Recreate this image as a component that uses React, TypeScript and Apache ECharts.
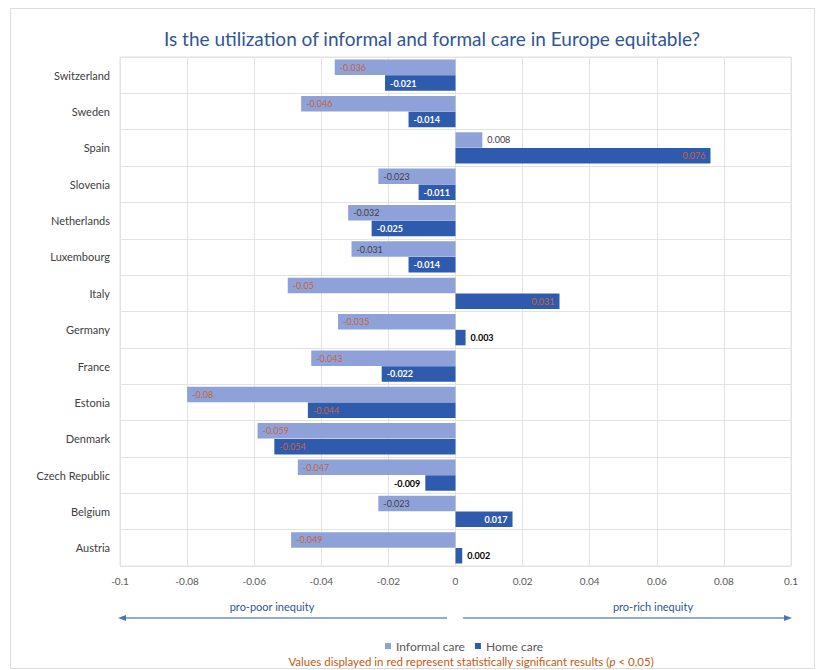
import React, { useEffect, useRef } from "react";
import * as echarts from "echarts";

const countries = [
  "Switzerland", "Sweden", "Spain", "Slovenia", "Netherlands", "Luxembourg", "Italy",
  "Germany", "France", "Estonia", "Denmark", "Czech Republic", "Belgium", "Austria",
];
const informalCare = [-0.036, -0.046, 0.008, -0.023, -0.032, -0.031, -0.05, -0.035, -0.043, -0.08, -0.059, -0.047, -0.023, -0.049];
const homeCare = [-0.021, -0.014, 0.076, -0.011, -0.025, -0.014, 0.031, 0.003, -0.022, -0.044, -0.054, -0.009, 0.017, 0.002];
const informalSig = [true, true, false, false, false, false, true, true, true, true, true, true, false, true];
const homeSig = [false, false, true, false, false, false, true, false, false, true, true, false, false, false];
const informalLabels = ["-0.036", "-0.046", "0.008", "-0.023", "-0.032", "-0.031", "-0.05", "-0.035", "-0.043", "-0.08", "-0.059", "-0.047", "-0.023", "-0.049"];
const homeLabels = ["-0.021", "-0.014", "0.076", "-0.011", "-0.025", "-0.014", "0.031", "0.003", "-0.022", "-0.044", "-0.054", "-0.009", "0.017", "0.002"];
const xTicks = [-0.1, 0.1, 0.02];

const RED = "#c8623a";
const INFORMAL = "#8EA2D9";
const HOME = "#2F5BAE";

function buildData(values: number[], sig: boolean[], labels: string[], insideColor: string, isHome: boolean) {
  return values.map((v, i) => {
    const small = Math.abs(v) < 0.01;
    const position = small ? (v >= 0 ? "right" : "left") : v >= 0 ? "insideRight" : "insideLeft";
    const color = sig[i] ? RED : small ? (isHome ? "#000000" : "#404040") : insideColor;
    return {
      value: v,
      label: { show: true, position, color, formatter: labels[i], fontWeight: isHome && !sig[i] ? "bold" : "normal" },
    };
  });
}

export default function App() {
  const ref = useRef<HTMLDivElement>(null);
  useEffect(() => {
    if (!ref.current) return;
    const chart = echarts.init(ref.current, null, { renderer: "svg" });
    const font = "Lato, 'Open Sans', sans-serif";
    chart.setOption({
      animation: false,
      textStyle: { fontFamily: font },
      title: {
        text: "Is the utilization of informal and formal care in Europe equitable?",
        left: 427,
        top: 24,
        textAlign: "center",
        textStyle: { color: "#2F5597", fontSize: 19, fontWeight: "normal", fontFamily: font },
      },
      grid: { left: 120, right: 33, top: 57, bottom: 104, containLabel: false, show: true, borderColor: "#e3e3e3" },
      legend: {
        left: 380,
        top: 635,
        itemWidth: 6,
        itemHeight: 6,
        itemGap: 10,
        icon: "rect",
        textStyle: { color: "#595959", fontSize: 12, fontFamily: font },
        data: ["Informal care", "Home care"],
      },
      xAxis: {
        type: "value",
        min: xTicks[0],
        max: xTicks[1],
        interval: xTicks[2],
        axisLine: { show: false },
        axisTick: { show: false },
        splitLine: { show: true, lineStyle: { color: "#e3e3e3" } },
        axisLabel: {
          color: "#595959",
          fontSize: 10,
          margin: 10,
          formatter: (v: number) => String(Math.round(v * 100) / 100),
        },
      },
      yAxis: {
        type: "category",
        data: countries,
        inverse: true,
        axisLine: { show: false, onZero: false },
        axisTick: { show: false },
        splitLine: { show: true, lineStyle: { color: "#e3e3e3" } },
        axisLabel: { color: "#404040", fontSize: 11, margin: 10 },
      },
      series: [
        {
          name: "Informal care",
          type: "bar",
          barGap: "2%",
          barCategoryGap: "14%",
          itemStyle: { color: INFORMAL },
          label: { fontSize: 9, fontFamily: font },
          data: buildData(informalCare, informalSig, informalLabels, "#404040", false),
        },
        {
          name: "Home care",
          type: "bar",
          barGap: "2%",
          barCategoryGap: "14%",
          itemStyle: { color: HOME },
          label: { fontSize: 9, fontFamily: font },
          data: buildData(homeCare, homeSig, homeLabels, "#ffffff", true),
        },
      ],
      graphic: [
        {
          type: "rect",
          shape: { x: 10.5, y: 8.5, width: 804, height: 660 },
          style: { fill: "none", stroke: "#dddddd", lineWidth: 1 },
          silent: true,
        },
        {
          type: "text",
          x: 272,
          y: 606,
          style: { text: "pro-poor inequity", fill: "#2F5597", fontSize: 11, fontFamily: font, align: "center", verticalAlign: "middle" },
        },
        {
          type: "text",
          x: 653,
          y: 606,
          style: { text: "pro-rich inequity", fill: "#2F5597", fontSize: 11, fontFamily: font, align: "center", verticalAlign: "middle" },
        },
        {
          type: "line",
          shape: { x1: 124, y1: 618, x2: 447, y2: 618 },
          style: { stroke: "#6F8FCF", lineWidth: 1.5 },
        },
        {
          type: "polygon",
          shape: { points: [[118, 618], [126, 615], [126, 621]] },
          style: { fill: "#4F72BF" },
        },
        {
          type: "line",
          shape: { x1: 463, y1: 618, x2: 786, y2: 618 },
          style: { stroke: "#6F8FCF", lineWidth: 1.5 },
        },
        {
          type: "polygon",
          shape: { points: [[792, 618], [784, 615], [784, 621]] },
          style: { fill: "#4F72BF" },
        },
        {
          type: "text",
          x: 471,
          y: 661,
          style: {
            text: "{n|Values displayed in red represent statistically significant results (}{i|p}{n| < 0,05)}",
            align: "center",
            verticalAlign: "middle",
            rich: {
              n: { fill: "#C55A11", fontSize: 11.5, fontFamily: font },
              i: { fill: "#C55A11", fontSize: 11.5, fontStyle: "italic", fontFamily: font },
            },
          },
        },
      ],
    });
    return () => chart.dispose();
  }, []);
  return (
    <div
      ref={ref}
      style={{ position: "absolute", left: 0, top: 0, width: 824, height: 670, background: "#ffffff" }}
    />
  );
}
